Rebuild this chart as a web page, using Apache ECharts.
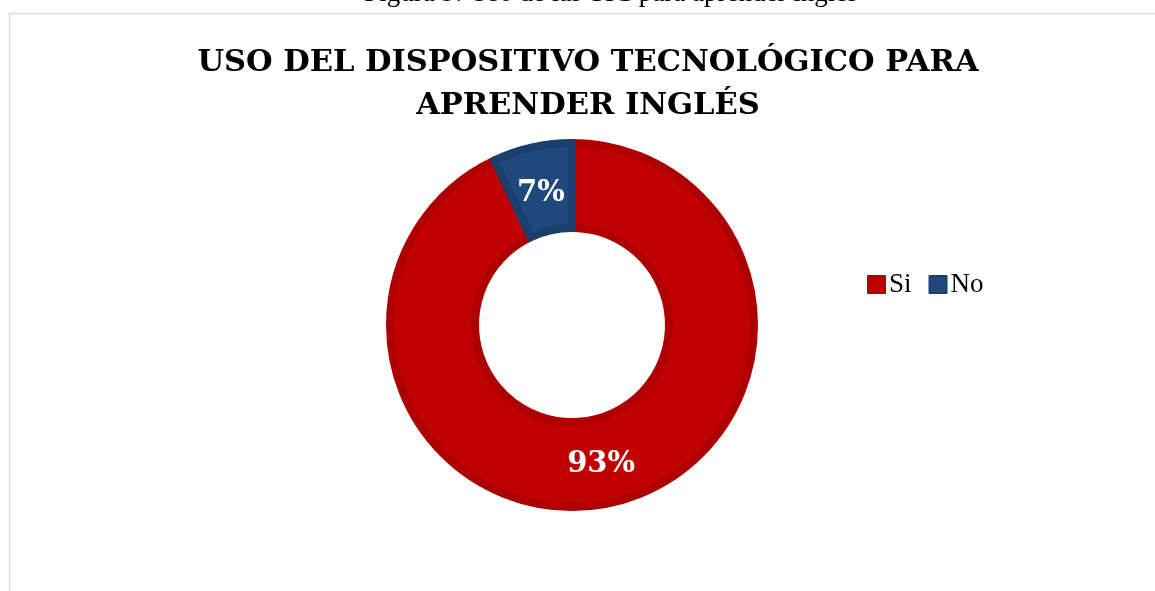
<!DOCTYPE html>
<html>
<head>
<meta charset="utf-8">
<script src="https://cdn.jsdelivr.net/npm/echarts@6/dist/echarts.min.js"></script>
<style>html,body{margin:0;padding:0;background:#fff;}#c{width:1155px;height:591px;}</style>
</head>
<body>
<div id="c"></div>
<script>
const categories = ['Si', 'No'];
const values = [93, 7];
const colors = ['#C00000', '#1F497D'];
const borderColors = ['#AE0000', '#1B3F6C'];
const titleText = 'USO DEL DISPOSITIVO TECNOLÓGICO PARA\nAPRENDER INGLÉS';
const captionText = 'Figura 9: Uso de las TIC para aprender inglés';

const CX = 572, CY = 325;
const chart = echarts.init(document.getElementById('c'), null, {renderer: 'canvas'});
chart.setOption({
  backgroundColor: '#fff',
  animation: false,
  graphic: [
    {type: 'rect', shape: {x: 9.5, y: 13.5, width: 1200, height: 700}, style: {fill: 'none', stroke: '#D9D9D9', lineWidth: 1.5}},
    {type: 'text', x: 611, y: 7, style: {text: captionText, font: '27px "Liberation Serif"', fill: '#000', align: 'center', verticalAlign: 'bottom'}}
  ],
  title: {
    text: titleText,
    left: 583,
    textAlign: 'center',
    top: 37,
    textStyle: {fontFamily: '"DejaVu Serif"', fontWeight: 'bold', fontSize: 30.5, lineHeight: 43, color: '#000'}
  },
  legend: {
    orient: 'horizontal',
    left: 862,
    top: 266,
    itemWidth: 17,
    itemHeight: 17,
    itemGap: 17,
    icon: 'rect',
    textStyle: {fontFamily: '"Liberation Serif"', fontSize: 27, color: '#000', padding: [0, 0, 0, -1]},
    data: categories
  },
  series: [{
    type: 'pie',
    center: [CX, CY],
    radius: [97, 182],
    startAngle: 90,
    clockwise: true,
    label: {
      show: true,
      position: 'inside',
      formatter: '{c}%',
      color: '#fff',
      fontFamily: '"DejaVu Serif"',
      fontWeight: 'bold',
      fontSize: 29
    },
    labelLayout: function (p) {
      const r = p.labelRect;
      const my = r.y + r.height / 2;
      return {dx: my < CY ? 0 : -2, dy: my < CY ? 8 : 0};
    },
    labelLine: {show: false},
    emphasis: {disabled: true},
    data: categories.map((c, i) => ({
      name: c,
      value: values[i],
      itemStyle: {color: colors[i], borderColor: borderColors[i], borderWidth: 8}
    }))
  }]
});
</script>
</body>
</html>
